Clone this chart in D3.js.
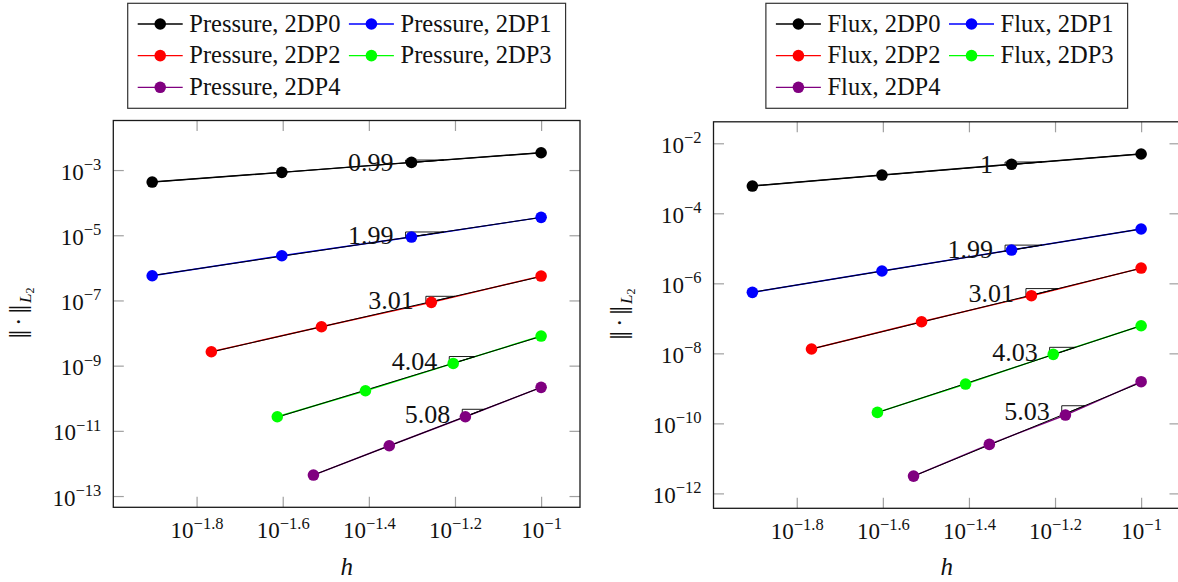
<!DOCTYPE html>
<html><head><meta charset="utf-8">
<script src="https://cdn.jsdelivr.net/npm/d3@7"></script>
<style>
body{margin:0;background:#fff}
svg{display:block;font-family:"Liberation Serif"}
svg text, svg tspan{font-family:"Liberation Serif" !important}
svg tspan.norm{font-family:"Noto Serif" !important}
</style>
</head><body>
<svg id="c" width="1178" height="582" font-family="Liberation Serif"></svg>
<script>
// ---------- data ----------
const seriesNames = ["2DP0", "2DP1", "2DP2", "2DP3", "2DP4"];
const seriesColors = ["#000000", "#0000ff", "#ff0000", "#00ff00", "#800080"];

// mesh sizes h per series
const h2DP0 = [0.0125, 0.025, 0.05, 0.1];
const h2DP1 = [0.0125, 0.025, 0.05, 0.1];
const h2DP2 = [0.01715, 0.0309, 0.0556, 0.1];
const h2DP3 = [0.0244, 0.0391, 0.0625, 0.1];
const h2DP4 = [0.0296, 0.0444, 0.0667, 0.1];

// pressure L2 errors
const pressure2DP0 = [4.28e-4, 8.5e-4, 1.72e-3, 3.4e-3];
const pressure2DP1 = [5.73e-7, 2.35e-6, 8.8e-6, 3.54e-5];
const pressure2DP2 = [2.67e-9, 1.56e-8, 8.74e-8, 5.6e-7];
const pressure2DP3 = [2.71e-11, 1.70e-10, 1.17e-9, 8.1e-9];
const pressure2DP4 = [4.4e-13, 3.49e-12, 2.71e-11, 2.16e-10];

// flux L2 errors
const flux2DP0 = [6.0e-4, 1.24e-3, 2.51e-3, 4.94e-3];
const flux2DP1 = [5.53e-7, 2.25e-6, 8.93e-6, 3.56e-5];
const flux2DP2 = [1.33e-8, 8.0e-8, 4.43e-7, 2.73e-6];
const flux2DP3 = [2.06e-10, 1.33e-9, 9.36e-9, 6.15e-8];
const flux2DP4 = [3.12e-12, 2.51e-11, 1.73e-10, 1.55e-9];

// slope-triangle labels and extents (h)
const pressureRates = ["0.99", "1.99", "3.01", "4.04", "5.08"];
const pressureTriLeft = [0.04845, 0.04845, 0.0540, 0.0612, 0.0656];
const pressureTriRight = [0.0594, 0.0594, 0.0630, 0.0703, 0.0738];
const fluxRates = ["1", "1.99", "3.01", "4.03", "5.03"];
const fluxTriLeft = [0.0483, 0.0483, 0.0540, 0.0613, 0.0654];
const fluxTriRight = [0.0588, 0.0588, 0.0642, 0.0704, 0.0739];

// tick exponents
const xTickExp = [-1.8, -1.6, -1.4, -1.2, -1];
const pressureYTickExp = [-3, -5, -7, -9, -11, -13];
const fluxYTickExp = [-2, -4, -6, -8, -10, -12];

const hSets = [h2DP0, h2DP1, h2DP2, h2DP3, h2DP4];

// ---------- drawing ----------
const svg = d3.select("#c");
const FONT = "Liberation Serif";
const fmtExp = e => "\u2212" + String(Math.abs(e));

function drawPanel(p) {
  const allH = hSets.flat(), allE = p.err.flat();
  const lx = d3.extent(allH).map(Math.log10), ly = d3.extent(allE).map(Math.log10);
  const ex = (lx[1] - lx[0]) * 0.1, ey = (ly[1] - ly[0]) * 0.1;
  const x = d3.scaleLog().domain([10 ** (lx[0] - ex), 10 ** (lx[1] + ex)]).range([p.left, p.right]);
  const y = d3.scaleLog().domain([10 ** (ly[0] - ey), 10 ** (ly[1] + ey)]).range([p.bottom, p.top]);
  const g = svg.append("g");
  const tickLen = 10.5;
  const xt = xTickExp.map(e => 10 ** e), yt = p.yTickExp.map(e => 10 ** e);

  const styleAxis = sel => {
    sel.attr("font-family", FONT);
    sel.select(".domain").remove();
    sel.selectAll(".tick line").attr("stroke", "#a0a0a0").attr("stroke-width", 1.2);
  };

  // bottom axis with labels
  const axB = g.append("g").attr("transform", `translate(0,${p.bottom})`)
    .call(d3.axisBottom(x).tickValues(xt).tickSizeInner(-tickLen).tickSizeOuter(0)
      .tickFormat((d, i) => xTickExp[i]));
  styleAxis(axB);
  axB.selectAll(".tick text").each(function (d, i) {
    const t = d3.select(this);
    t.text(null).attr("y", 31).attr("dy", 0).attr("fill", "#111")
      .attr("font-family", FONT).attr("font-size", 23).attr("text-anchor", "middle");
    t.append("tspan").text("10");
    t.append("tspan").attr("dy", -9.5).attr("font-size", 16.5).text(fmtExp(xTickExp[i]));
  });
  // top mirrored ticks
  styleAxis(g.append("g").attr("transform", `translate(0,${p.top})`)
    .call(d3.axisTop(x).tickValues(xt).tickSizeInner(-tickLen).tickSizeOuter(0).tickFormat("")));
  // left axis with labels
  const axL = g.append("g").attr("transform", `translate(${p.left},0)`)
    .call(d3.axisLeft(y).tickValues(yt).tickSizeInner(-tickLen).tickSizeOuter(0)
      .tickFormat((d, i) => p.yTickExp[i]));
  styleAxis(axL);
  axL.selectAll(".tick text").each(function (d, i) {
    const t = d3.select(this);
    t.text(null).attr("x", -12).attr("y", 9).attr("dy", 0).attr("fill", "#111")
      .attr("font-family", FONT).attr("font-size", 23).attr("text-anchor", "end");
    t.append("tspan").text("10");
    t.append("tspan").attr("dy", -9.5).attr("font-size", 16.5).text(fmtExp(p.yTickExp[i]));
  });
  // right mirrored ticks
  styleAxis(g.append("g").attr("transform", `translate(${p.right},0)`)
    .call(d3.axisRight(y).tickValues(yt).tickSizeInner(-tickLen).tickSizeOuter(0).tickFormat("")));

  // frame
  g.append("rect").attr("x", p.left).attr("y", p.top)
    .attr("width", p.right - p.left).attr("height", p.bottom - p.top)
    .attr("fill", "none").attr("stroke", "#1a1a1a").attr("stroke-width", 1.3);

  // series
  const line = d3.line().x(d => x(d[0])).y(d => y(d[1]));
  p.err.forEach((errs, s) => {
    const pts = hSets[s].map((h, i) => [h, errs[i]]);
    g.append("path").attr("d", line(pts)).attr("fill", "none")
      .attr("stroke", seriesColors[s]).attr("stroke-width", 1.4);
  });
  // black regression (fit) lines, slope triangles, labels
  p.err.forEach((errs, s) => {
    const lh = hSets[s].map(Math.log10), le = errs.map(Math.log10);
    const mx = d3.mean(lh), my = d3.mean(le);
    const m = d3.sum(lh.map((v, i) => (v - mx) * (le[i] - my))) / d3.sum(lh.map(v => (v - mx) ** 2));
    const f = h => 10 ** (my + m * (Math.log10(h) - mx));
    const he = d3.extent(hSets[s]);
    g.append("path").attr("d", line(he.map(h => [h, f(h)]))).attr("fill", "none")
      .attr("stroke", "#000").attr("stroke-width", 1);
    const tl = p.triLeft[s], tr = p.triRight[s];
    const yb = y(f(tl)), yTop = y(f(tr));
    g.append("path")
      .attr("d", `M${x(tl)},${yb}V${yTop}H${x(tr)}Z`)
      .attr("fill", "none").attr("stroke", "#000").attr("stroke-width", 0.9);
    g.append("text").attr("x", x(tl) - 12).attr("y", (yb + yTop) / 2 + 9.5)
      .attr("text-anchor", "end").attr("font-family", FONT).attr("font-size", 26)
      .attr("fill", "#111").text(p.rates[s]);
  });
  // markers
  p.err.forEach((errs, s) => {
    g.selectAll(null).data(hSets[s].map((h, i) => [h, errs[i]])).join("circle")
      .attr("cx", d => x(d[0])).attr("cy", d => y(d[1])).attr("r", 5.8)
      .attr("fill", seriesColors[s]);
  });

  // axis titles
  const cx = (p.left + p.right) / 2, cy = (p.top + p.bottom) / 2;
  g.append("text").attr("x", cx).attr("y", 575).attr("text-anchor", "middle")
    .attr("font-family", FONT).attr("font-style", "italic").attr("font-size", 25)
    .attr("fill", "#111").text("h");
  const yl = g.append("text").attr("transform", `translate(${p.left - 87},${cy}) rotate(-90)`)
    .attr("text-anchor", "middle").attr("font-family", FONT).attr("font-size", 24).attr("fill", "#111");
  yl.append("tspan").attr("class", "norm").attr("font-size", 22)
    .text("\u2016\u2009\u00b7\u2009\u2016");
  yl.append("tspan").attr("dy", 5).attr("font-size", 17).attr("font-style", "italic").text("L");
  yl.append("tspan").attr("dy", 3).attr("font-size", 12).text("2");

  // legend
  const lg = svg.append("g").attr("font-family", FONT);
  const fs = 24.5;
  const labels = seriesNames.map(n => `${p.name}, ${n}`);
  const tmp = lg.selectAll("text.m").data(labels).join("text")
    .attr("font-family", FONT).attr("font-size", fs).text(d => d);
  const widths = [];
  tmp.each(function () { widths.push(this.getComputedTextLength()); });
  tmp.remove();
  const padL = 10, lineLen = 45, gapT = 6.6, gapC = 8.5, padR = 14;
  const col1W = d3.max([widths[0], widths[2], widths[4]]);
  const col2W = d3.max([widths[1], widths[3]]);
  const W = padL + lineLen + gapT + col1W + gapC + lineLen + gapT + col2W + padR;
  const bx = cx - W / 2, by = 3.3, bh = 105;
  lg.append("rect").attr("x", bx).attr("y", by).attr("width", W).attr("height", bh)
    .attr("fill", "#fff").attr("stroke", "#333").attr("stroke-width", 1.2);
  const colX = [bx + padL, bx + padL + lineLen + gapT + col1W + gapC];
  const rowBase = [31.7, 63.3, 95];
  labels.forEach((lab, s) => {
    const c = s % 2, r = Math.floor(s / 2);
    const x0 = colX[c], yb = rowBase[r], ym = yb - 7.7;
    lg.append("line").attr("x1", x0).attr("x2", x0 + lineLen).attr("y1", ym).attr("y2", ym)
      .attr("stroke", seriesColors[s]).attr("stroke-width", 1.3);
    lg.append("circle").attr("cx", x0 + lineLen / 2).attr("cy", ym).attr("r", 5.8).attr("fill", seriesColors[s]);
    lg.append("text").attr("x", x0 + lineLen + gapT).attr("y", yb)
      .attr("font-family", FONT).attr("font-size", fs).attr("fill", "#111").text(lab);
  });
}

drawPanel({
  name: "Pressure", left: 113.3, right: 580, top: 120.5, bottom: 507.3,
  err: [pressure2DP0, pressure2DP1, pressure2DP2, pressure2DP3, pressure2DP4],
  rates: pressureRates, triLeft: pressureTriLeft, triRight: pressureTriRight,
  yTickExp: pressureYTickExp
});
drawPanel({
  name: "Flux", left: 713.5, right: 1180, top: 121.8, bottom: 508.3,
  err: [flux2DP0, flux2DP1, flux2DP2, flux2DP3, flux2DP4],
  rates: fluxRates, triLeft: fluxTriLeft, triRight: fluxTriRight,
  yTickExp: fluxYTickExp
});
</script>
</body></html>
